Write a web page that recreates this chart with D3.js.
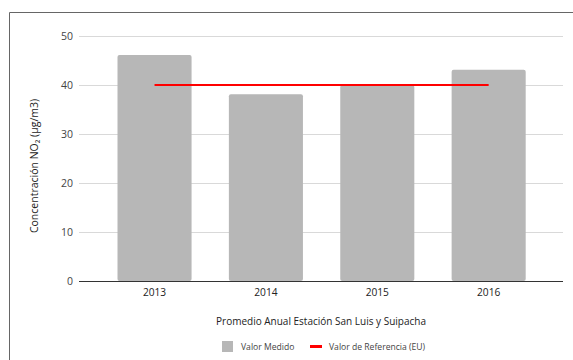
<!DOCTYPE html>
<html>
<head>
<meta charset="utf-8">
<script src="https://cdn.jsdelivr.net/npm/d3@7"></script>
<style>
  html, body { margin: 0; padding: 0; background: #fff; }
  svg { display: block; font-family: "Open Sans", sans-serif; }
</style>
</head>
<body>
<svg id="chart" width="573" height="360"></svg>
<script>
// Annual NO2 averages, San Luis y Suipacha station
const years = ["2013", "2014", "2015", "2016"];
const measured = [46.1, 38.1, 40, 43.1];
const reference = [40, 40, 40, 40];
const yTicks = [0, 10, 20, 30, 40, 50];

const svg = d3.select("#chart");

// outer frame (extends past the right and bottom edges)
svg.append("path")
  .attr("d", "M9.5,400 V12.5 H600")
  .attr("fill", "none")
  .attr("stroke", "#666")
  .attr("stroke-width", 1);

const plotLeft = 79, plotRight = 563;
const x = d3.scaleBand().domain(years).range([98.8, 544.4]).paddingInner(0.335).paddingOuter(0.168);
const y = d3.scaleLinear().domain([0, 50]).range([281, 36]);

// gridlines
svg.append("g")
  .selectAll("line")
  .data(yTicks.filter(d => d !== 0))
  .join("line")
  .attr("x1", plotLeft).attr("x2", plotRight)
  .attr("y1", d => Math.round(y(d)) + 0.5).attr("y2", d => Math.round(y(d)) + 0.5)
  .attr("stroke", "#d9d9d9");

// y tick labels
svg.append("g")
  .selectAll("text")
  .data(yTicks)
  .join("text")
  .attr("x", 73)
  .attr("y", d => y(d))
  .attr("dy", "0.35em")
  .attr("text-anchor", "end")
  .attr("font-size", 10.5)
  .attr("fill", "#444")
  .text(d => d);

// bars
svg.append("g")
  .selectAll("rect")
  .data(years)
  .join("rect")
  .attr("x", d => x(d))
  .attr("width", x.bandwidth())
  .attr("y", (d, i) => y(measured[i]))
  .attr("height", (d, i) => y(0) - y(measured[i]))
  .attr("rx", 2)
  .attr("fill", "#b7b7b7");

// baseline
svg.append("line")
  .attr("x1", plotLeft).attr("x2", plotRight)
  .attr("y1", y(0) + 0.5).attr("y2", y(0) + 0.5)
  .attr("stroke", "#333");

// reference line
const line = d3.line()
  .x((d, i) => x(years[i]) + x.bandwidth() / 2)
  .y(d => y(d));
svg.append("path")
  .datum(reference)
  .attr("d", line)
  .attr("fill", "none")
  .attr("stroke", "#ff0000")
  .attr("stroke-width", 2);

// x tick labels
svg.append("g")
  .selectAll("text")
  .data(years)
  .join("text")
  .attr("x", d => x(d) + x.bandwidth() / 2)
  .attr("y", 295.5)
  .attr("text-anchor", "middle")
  .attr("font-size", 10.2)
  .attr("fill", "#222")
  .text(d => d);

// x axis title
svg.append("text")
  .attr("x", 321)
  .attr("y", 324.5)
  .attr("text-anchor", "middle")
  .attr("font-size", 10)
  .attr("fill", "#222")
  .text("Promedio Anual Estación San Luis y Suipacha");

// y axis title
svg.append("text")
  .attr("transform", "translate(37.5,166) rotate(-90)")
  .attr("text-anchor", "middle")
  .attr("font-size", 10.5)
  .attr("fill", "#222")
  .text("Concentración NO₂ (µg/m3)");

// legend
const legend = svg.append("g").attr("font-size", 8.6).attr("fill", "#444");
legend.append("rect")
  .attr("x", 222).attr("y", 341).attr("width", 11).attr("height", 11)
  .attr("fill", "#b7b7b7");
legend.append("text")
  .attr("x", 241).attr("y", 346.5).attr("dy", "0.35em")
  .text("Valor Medido");
legend.append("rect")
  .attr("x", 310).attr("y", 345).attr("width", 12).attr("height", 3)
  .attr("fill", "#ff0000");
legend.append("text")
  .attr("x", 329).attr("y", 346.5).attr("dy", "0.35em")
  .text("Valor de Referencia (EU)");
</script>
</body>
</html>
